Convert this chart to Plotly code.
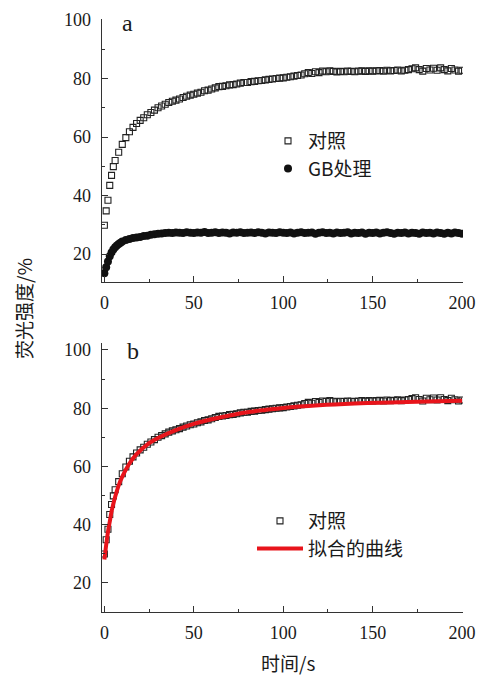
import plotly.graph_objects as go

# ---- data ----
ctrl_t = [0, 1, 2, 3, 4, 5, 6, 8, 10, 12, 14, 16, 18, 20, 22, 24, 26, 28, 30, 32, 34, 36, 38, 40,
          42, 44, 46, 48, 50, 52, 54, 56, 58, 60, 62, 64, 66, 68, 70, 72, 74, 76, 78, 80,
          82, 84, 86, 88, 90, 92, 94, 96, 98, 100, 102, 104, 106, 108, 110, 112, 114, 116, 118, 120,
          122, 124, 126, 128, 130, 132, 134, 136, 138, 140, 142, 144, 146, 148, 150, 152, 154, 156, 158, 160,
          162, 164, 166, 168, 170, 172, 174, 176, 178, 180, 182, 184, 186, 188, 190, 192, 194, 196, 198, 200]
ctrl_v = [29.9, 34.8, 38.4, 43.5, 46.9, 49.9, 52.0, 54.8, 57.5, 59.8, 61.8, 63.3, 64.6, 65.7, 66.6, 67.6, 68.4, 69.2, 70.0, 70.6, 71.2, 71.8, 72.2, 72.6,
          73.0, 73.5, 73.9, 74.3, 74.6, 75.0, 75.3, 75.8, 76.0, 76.4, 76.8, 77.2, 77.3, 77.5, 77.8, 77.9, 78.1, 78.4, 78.6, 78.6,
          78.9, 79.0, 79.2, 79.3, 79.5, 79.7, 79.8, 80.0, 80.1, 80.2, 80.4, 80.6, 80.8, 81.0, 81.2, 81.6, 82.0, 81.7, 82.3, 82.0,
          82.5, 82.3, 82.6, 82.4, 82.2, 82.4, 82.3, 82.5, 82.4, 82.3, 82.5, 82.6, 82.4, 82.6, 82.5, 82.6, 82.7, 82.5, 82.8, 82.6,
          82.7, 82.9, 82.6, 82.8, 83.0, 83.3, 83.6, 83.0, 82.5, 83.4, 82.9, 83.5, 82.8, 83.6, 83.0, 82.6, 83.4, 82.9, 82.5, 82.8]

gb_t = [0, 1, 2, 3, 4, 5, 6, 7, 8, 9, 10, 12, 14, 16, 18, 20, 22, 24, 26, 28, 30, 32, 34, 36, 38, 40,
        42, 44, 46, 48, 50, 52, 54, 56, 58, 60, 62, 64, 66, 68, 70, 72, 74, 76, 78, 80,
        82, 84, 86, 88, 90, 92, 94, 96, 98, 100, 102, 104, 106, 108, 110, 112, 114, 116, 118, 120,
        122, 124, 126, 128, 130, 132, 134, 136, 138, 140, 142, 144, 146, 148, 150, 152, 154, 156, 158, 160,
        162, 164, 166, 168, 170, 172, 174, 176, 178, 180, 182, 184, 186, 188, 190, 192, 194, 196, 198, 200]
gb_v = [13.5, 15.5, 17.5, 19.3, 20.6, 21.6, 22.4, 23.0, 23.5, 23.9, 24.3, 24.8, 25.2, 25.5, 25.7, 25.9, 26.2, 26.3, 26.6, 26.8, 27.0, 27.1, 27.2, 27.3, 27.2, 27.4,
        27.3, 27.2, 27.5, 27.3, 27.2, 27.4, 27.3, 27.6, 27.2, 27.3, 27.5, 27.2, 27.4, 27.3, 27.1, 27.4, 27.3, 27.5, 27.2, 27.3,
        27.4, 27.2, 27.5, 27.3, 27.1, 27.4, 27.3, 27.2, 27.5, 27.3, 27.2, 27.4, 27.1, 27.3, 27.5, 27.2, 27.3, 27.4, 27.0, 27.3,
        27.5, 27.2, 27.3, 27.1, 27.4, 27.2, 27.3, 27.5, 27.1, 27.3, 27.2, 27.4, 27.0, 27.3, 27.2, 27.4, 27.1, 27.3, 27.5, 27.2,
        27.0, 27.3, 27.2, 27.4, 27.1, 27.3, 27.2, 27.0, 27.4, 27.2, 27.3, 27.1, 27.4, 27.2, 27.0, 27.3, 27.1, 27.4, 27.2, 27.0]

fit_t = [0, 1, 2, 3, 4, 6, 8, 10, 14, 18, 25, 30, 40, 50, 60, 70, 80, 90, 100, 120, 140, 160, 180, 200]
fit_v = [28.0, 33.0, 37.5, 41.0, 44.5, 49.5, 53.5, 56.5, 61.0, 64.2, 68.0, 69.8, 72.5, 74.6, 76.2, 77.5, 78.6, 79.4, 80.1, 81.0, 81.6, 82.0, 82.3, 82.6]

x_ticks = [0, 50, 100, 150, 200]
y_ticks = [20, 40, 60, 80, 100]

CJK = "Noto Sans CJK SC"
SERIF = "Liberation Serif, DejaVu Serif, serif"
AX = "#333333"
TXT = "#1a1a1a"

# page body has an 8 px margin: figure coordinates = screen coordinates - 8
W, H = 477, 667
OFF = 8


def px_x(s):
    return (s - OFF) / W


def px_y(s):
    return 1 - (s - OFF) / H


fig = go.Figure()

sq = dict(symbol="square-open", size=6, color="#222222", line=dict(width=1.1, color="#222222"))

fig.add_trace(go.Scatter(x=ctrl_t, y=ctrl_v, mode="markers", marker=sq, name="对照",
                         xaxis="x", yaxis="y", legend="legend"))
fig.add_trace(go.Scatter(x=gb_t, y=gb_v, mode="markers",
                         marker=dict(symbol="circle", size=8, color="#111111"),
                         name="GB处理", xaxis="x", yaxis="y", legend="legend"))
fig.add_trace(go.Scatter(x=ctrl_t, y=ctrl_v, mode="markers", marker=sq, name="对照",
                         xaxis="x2", yaxis="y2", legend="legend2"))
fig.add_trace(go.Scatter(x=fit_t, y=fit_v, mode="lines", line=dict(color="#e8141b", width=4, shape="spline"),
                         name="拟合的曲线", xaxis="x2", yaxis="y2", legend="legend2"))

x_dom = [px_x(101.7), px_x(463)]
xax = dict(range=[-1.5, 200.5], tickvals=x_ticks, ticks="inside", ticklen=6, tickwidth=1.2,
           tickcolor=AX, showline=True, linecolor=AX, linewidth=1.3, showgrid=False, zeroline=False,
           minor=dict(tickvals=[25, 75, 125, 175], ticks="inside", ticklen=3, tickcolor=AX),
           tickfont=dict(family=SERIF, size=18, color=TXT), domain=x_dom, automargin=False,
           ticklabelstandoff=4)
yax = dict(tickvals=y_ticks, ticks="inside", ticklen=6, tickwidth=1.2,
           tickcolor=AX, showline=True, linecolor=AX, linewidth=1.3, showgrid=False, zeroline=False,
           minor=dict(tickvals=[30, 50, 70, 90], ticks="inside", ticklen=3, tickcolor=AX),
           tickfont=dict(family=SERIF, size=18, color=TXT), automargin=False,
           ticklabelstandoff=6)

fig.update_layout(
    width=W, height=H,
    margin=dict(l=0, r=0, t=0, b=0, autoexpand=False),
    paper_bgcolor="white", plot_bgcolor="white",
    xaxis=dict(xax, anchor="y"),
    yaxis=dict(yax, range=[10.5, 100.3], domain=[px_y(282), px_y(19)], anchor="x"),
    xaxis2=dict(xax, anchor="y2"),
    yaxis2=dict(yax, range=[10, 102.4], domain=[px_y(612), px_y(343)], anchor="x2"),
    legend=dict(x=px_x(268), y=px_y(122), xanchor="left", yanchor="top",
                font=dict(family=CJK, size=19, color=TXT), bgcolor="rgba(0,0,0,0)",
                tracegroupgap=0, itemwidth=30),
    legend2=dict(x=px_x(252), y=px_y(502), xanchor="left", yanchor="top",
                 font=dict(family=CJK, size=19, color=TXT), bgcolor="rgba(0,0,0,0)",
                 tracegroupgap=0, itemwidth=46),
    annotations=[
        dict(text="a", xref="paper", yref="paper", x=px_x(127), y=px_y(23), showarrow=False,
             font=dict(family=SERIF, size=24, color=TXT), xanchor="center", yanchor="middle"),
        dict(text="b", xref="paper", yref="paper", x=px_x(133), y=px_y(351), showarrow=False,
             font=dict(family=SERIF, size=24, color=TXT), xanchor="center", yanchor="middle"),
        dict(text="荧光强度/%", xref="paper", yref="paper", x=px_x(23), y=px_y(309), showarrow=False,
             textangle=-90, font=dict(family=CJK, size=19, color=TXT),
             xanchor="center", yanchor="middle"),
        dict(text="时间/s", xref="paper", yref="paper", x=px_x(288), y=px_y(662), showarrow=False,
             font=dict(family=CJK, size=19, color=TXT), xanchor="center", yanchor="middle"),
    ],
)

fig.write_html("out.html")
